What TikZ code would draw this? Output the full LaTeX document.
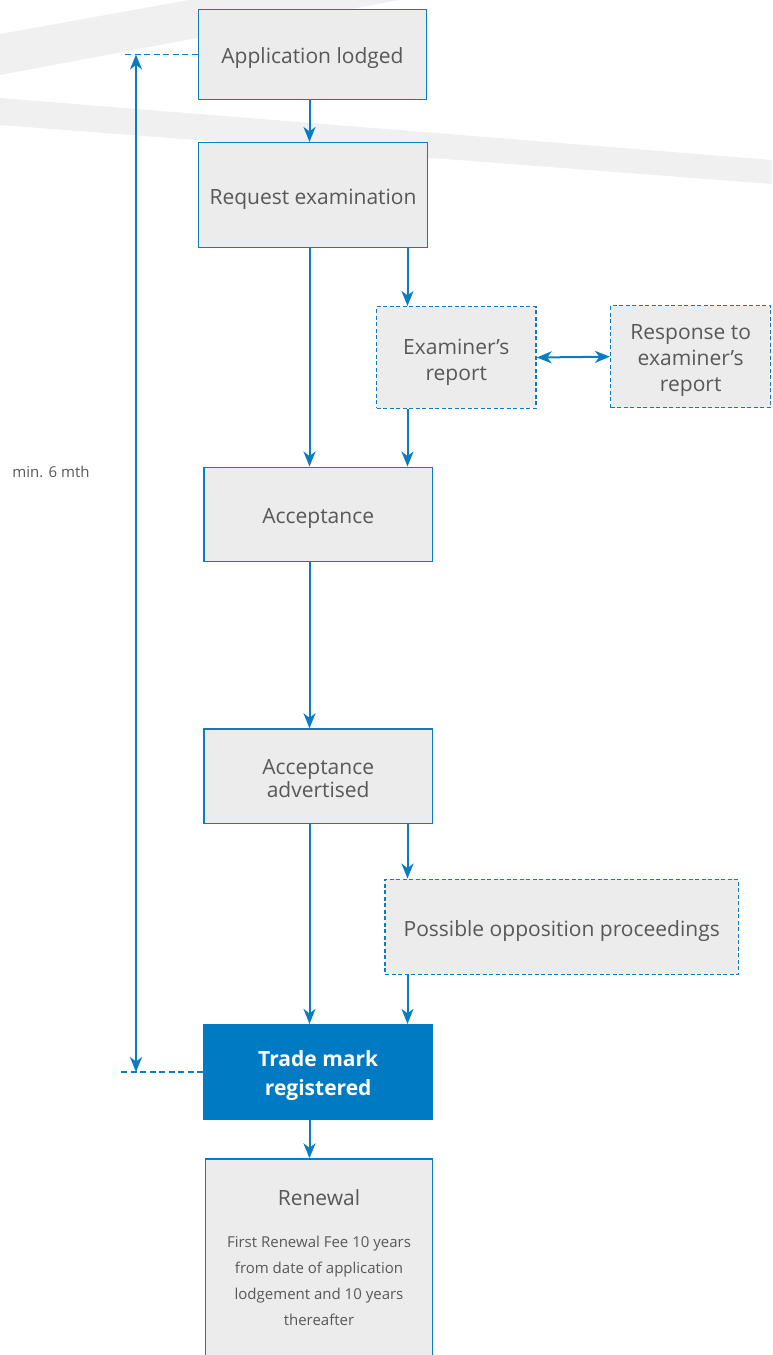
\documentclass[tikz,border=0pt]{standalone}
\usepackage{fontspec}
\setmainfont{Open Sans}
\usetikzlibrary{arrows.meta}
\definecolor{bl}{HTML}{0A7DC2}
\definecolor{bfill}{HTML}{ECECEC}
\definecolor{stripe}{HTML}{F0F0F0}
\definecolor{tx}{HTML}{585858}
\definecolor{tmfill}{HTML}{007BC3}
\begin{document}
\begin{tikzpicture}[x=1pt,y=-1pt,
  tpad/.style={execute at begin node={\rule{0pt}{#1}}},
  box/.style={draw=bl, line width=1.5pt, fill=bfill, text=tx,
    font=\fontsize{21}{26}\selectfont, align=center, inner sep=0pt, tpad=24pt},
  dbox/.style={box, dash pattern=on 4pt off 2.5pt},
  tmbox/.style={box, fill=tmfill, draw=tmfill, text=white, font=\fontsize{21}{29}\selectfont\bfseries},
  conn/.style={draw=bl, line width=2pt, -{Stealth[length=15pt,width=12pt,inset=4.5pt]}},
  bothconn/.style={draw=bl, line width=2pt, {Stealth[length=15pt,width=12pt,inset=4.5pt]}-{Stealth[length=15pt,width=12pt,inset=4.5pt]}},
  guide/.style={draw=bl, line width=1.2pt, dash pattern=on 6pt off 3.5pt},
  lbl/.style={text=tx, inner sep=0pt}]
\useasboundingbox (0,0) rectangle (772,1355);
\clip (0,0) rectangle (772,1355);
% background stripes
\fill[stripe] (0,34) -- (189,0) -- (399,0) -- (0,75) -- cycle;
\fill[stripe] (0,98) -- (772,160) -- (772,184) -- (0,125) -- cycle;
% helper coordinates
\coordinate (mx) at (309.5,0);
\coordinate (sx) at (407.5,0);
\coordinate (tl) at (136,0);
\coordinate (g1) at (125,0);
\coordinate (g2) at (120,0);
% nodes
\node[box, minimum width=228.4pt, minimum height=89.7pt] (app) at (312.5,54.5) {Application lodged};
\node[box, minimum width=228.6pt, minimum height=105pt] (req) at (313,195.2) {Request examination};
\node[dbox, tpad=52pt, minimum width=159.3pt, minimum height=101.6pt] (exam) at (456.3,357.5) {Examiner’s\\report};
\node[dbox, tpad=74pt, minimum width=160pt, minimum height=102pt] (resp) at (690.7,356.7) {Response to\\examiner’s\\report};
\node[box, minimum width=228.3pt, minimum height=94.4pt] (acc) at (318.2,514.5) {Acceptance};
\node[box, tpad=42pt, minimum width=228.3pt, minimum height=94.3pt] (adv) at (318.2,776.2) {Acceptance\\[-3pt]advertised};
\node[dbox, minimum width=353.3pt, minimum height=95pt] (opp) at (561.7,926.8) {Possible opposition proceedings};
\node[tmbox, tpad=52pt, minimum width=228.3pt, minimum height=94.7pt] (tm) at (318.2,1072) {Trade mark\\registered};
\node[draw=bl, line width=1.5pt, fill=bfill, minimum width=226.6pt, minimum height=240pt, anchor=north, inner sep=0pt] (ren) at (319,1158.3) {};
\node[lbl, font=\fontsize{21}{26}\selectfont] (rent) at (319,1198) {Renewal};
\node[lbl, align=center, font=\fontsize{15}{26}\selectfont] (rend) at (319,1281) {First Renewal Fee 10 years\\from date of application\\lodgement and 10 years\\thereafter};
\node[lbl, font=\fontsize{15}{18}\selectfont] (min) at (51,472) {min. 6 mth};
% connectors
\draw[conn] (app.south -| mx) -- (req.north -| mx);
\draw[conn] (req.south -| mx) -- (acc.north -| mx);
\draw[conn] (req.south -| sx) -- (exam.north -| sx);
\draw[conn] (exam.south -| sx) -- (acc.north -| sx);
\draw[bothconn] (exam.east) -- (resp.west);
\draw[conn] (acc.south -| mx) -- (adv.north -| mx);
\draw[conn] (adv.south -| mx) -- (tm.north -| mx);
\draw[conn] (adv.south -| sx) -- (opp.north -| sx);
\draw[conn] (opp.south -| sx) -- (tm.north -| sx);
\draw[conn] (tm.south -| mx) -- (ren.north -| mx);
% timeline
\draw[guide] (app.west) -- (app.west -| g1);
\draw[guide] (tm.west) -- (tm.west -| g2);
\draw[bothconn] (app.west -| tl) -- (tm.west -| tl);
\end{tikzpicture}
\end{document}
